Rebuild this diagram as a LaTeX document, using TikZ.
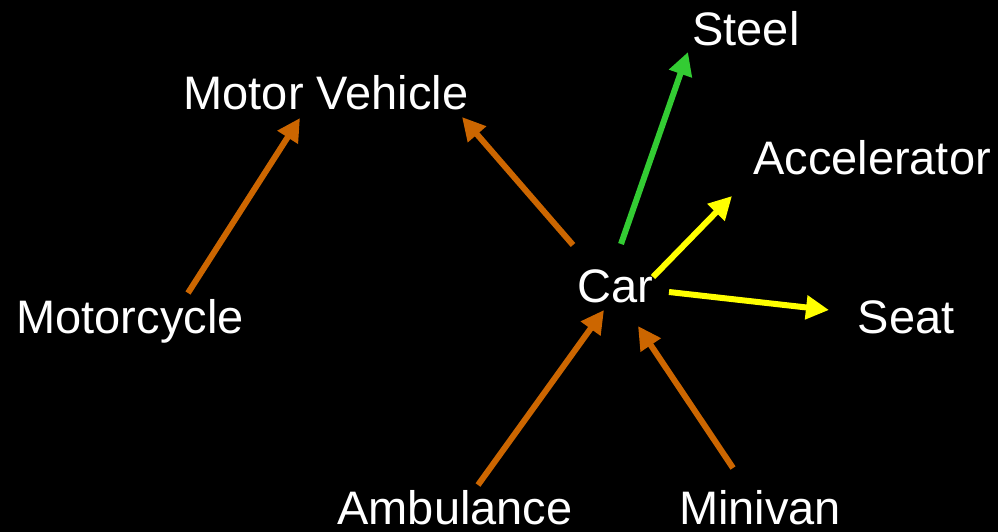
\documentclass[tikz,border=0pt]{standalone}
\usepackage{fontspec}
\setmainfont{Liberation Sans}
\usetikzlibrary{arrows.meta}
\definecolor{corange}{HTML}{CC6600}
\definecolor{cgreen}{HTML}{33CC33}
\definecolor{cyellow}{HTML}{FFFF00}
\begin{document}
\begin{tikzpicture}[x=1pt,y=-1pt,
  lbl/.style={text=white,anchor=base,inner sep=0pt,font=\fontsize{47}{52}\selectfont},
  arr/.style={line width=6pt,-{Triangle[length=23pt,width=23pt]}}]
\fill[black] (0,0) rectangle (998,532);
\useasboundingbox (0,0) rectangle (998,532);
\node[lbl] (steel) at (746,46) {Steel};
\node[lbl] (mv) at (326,110) {Motor Vehicle};
\node[lbl] (acc) at (872,174) {Accelerator};
\node[lbl] (moto) at (130,333) {Motorcycle};
\node[lbl] (car) at (615,302) {Car};
\node[lbl] (seat) at (906,333) {Seat};
\node[lbl] (amb) at (455,524) {Ambulance};
\node[lbl] (mini) at (760,524) {Minivan};
\draw[arr,corange] ([shift={(58,-40)}]moto.base) -- ([shift={(-26,8)}]mv.base);
\draw[arr,corange] ([shift={(-42,-57)}]car.base) -- ([shift={(136,7)}]mv.base);
\draw[arr,cgreen] ([shift={(6,-58)}]car.base) -- ([shift={(-58,6)}]steel.base);
\draw[arr,cyellow] ([shift={(38,-25)}]car.base) -- ([shift={(-140,22)}]acc.base);
\draw[arr,cyellow] ([shift={(54,-10)}]car.base) -- ([shift={(-77,-23)}]seat.base);
\draw[arr,corange] ([shift={(23,-39)}]amb.base) -- ([shift={(-11,8)}]car.base);
\draw[arr,corange] ([shift={(-27,-56)}]mini.base) -- ([shift={(23,24)}]car.base);
\end{tikzpicture}
\end{document}
